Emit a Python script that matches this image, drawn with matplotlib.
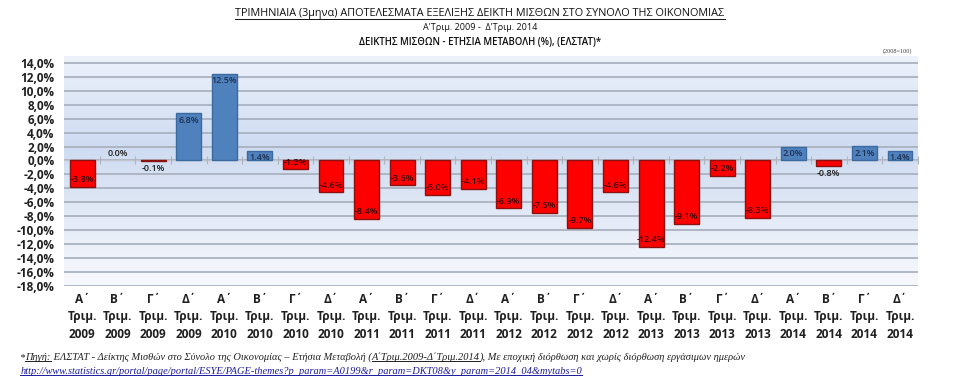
import numpy as np
import matplotlib
matplotlib.use("Agg")
from matplotlib import pyplot as plt
from matplotlib.lines import Line2D

plt.rcParams['font.family'] = ['Open Sans', 'DejaVu Sans']

quarters = ['Α΄', 'Β΄', 'Γ΄', 'Δ΄'] * 6
years = ['2009'] * 4 + ['2010'] * 4 + ['2011'] * 4 + ['2012'] * 4 + ['2013'] * 4 + ['2014'] * 4
values = [-3.8, 0.0, -0.1, 6.8,
          12.5, 1.4, -1.3, -4.6,
          -8.4, -3.6, -5.0, -4.1,
          -6.9, -7.5, -9.7, -4.6,
          -12.4, -9.1, -2.2, -8.3,
          2.0, -0.8, 2.1, 1.4]
yticks = np.arange(-18, 15, 2)

title = 'ΤΡΙΜΗΝΙΑΙΑ (3μηνα) ΑΠΟΤΕΛΕΣΜΑΤΑ ΕΞΕΛΙΞΗΣ ΔΕΙΚΤΗ ΜΙΣΘΩΝ ΣΤΟ ΣΥΝΟΛΟ ΤΗΣ ΟΙΚΟΝΟΜΙΑΣ'
subtitle = "Α'Τριμ. 2009 -  Δ'Τριμ. 2014"
subtitle2 = 'ΔΕΙΚΤΗΣ ΜΙΣΘΩΝ - ΕΤΗΣΙΑ ΜΕΤΑΒΟΛΗ (%), (ΕΛΣΤΑΤ)*'
base_note = '(2008=100)'
source = [('*', False), ('Πηγή:', True),
          (' ΕΛΣΤΑΤ - Δείκτης Μισθών στο Σύνολο της Οικονομίας – Ετήσια Μεταβολή (', False),
          ('Α΄Τριμ.2009-Δ΄Τριμ.2014', True),
          ('), Με εποχική διόρθωση και χωρίς διόρθωση εργάσιμων ημερών', False)]
link = 'http://www.statistics.gr/portal/page/portal/ESYE/PAGE-themes?p_param=A0199&r_param=DKT08&y_param=2014_04&mytabs=0'

fig = plt.figure(figsize=(9.6, 3.87), dpi=100)
ax = fig.add_axes([0.067, 0.262, 0.889, 0.593])

x = np.arange(len(values))
vals = np.array(values)

# background gradient: pale at top/bottom, bluer around zero
ylo, yhi = -18, 15
yy = np.linspace(yhi, ylo, 200)
top_c = np.array([0.93, 0.95, 0.985])
mid_c = np.array([0.81, 0.86, 0.945])
bot_c = np.array([0.97, 0.975, 0.99])
grad = np.zeros((200, 1, 3))
for i, v in enumerate(yy):
    if v >= 2:
        t = (v - 2) / (yhi - 2)
        grad[i, 0] = mid_c + (top_c - mid_c) * t
    else:
        t = (2 - v) / (2 - ylo)
        grad[i, 0] = mid_c + (bot_c - mid_c) * t
ax.imshow(grad, extent=(-0.5, len(values) - 0.5, ylo, yhi), aspect='auto', zorder=0)

for yv in yticks:
    ax.axhline(yv, color='#aab2c0', lw=1.3, zorder=1)
ax.axhline(0, color='#c0c4cc', lw=1.0, zorder=1)
ax.plot(x[:-1] + 0.5, np.zeros(len(x) - 1), ls='none', marker='|', ms=6, mew=0.8,
        color='#b0b4bc', zorder=1)
ax.plot([len(x) - 0.5], [0], ls='none', marker='|', ms=6, mew=0.8, color='#b0b4bc', zorder=1)

face = ['#4f81bd' if v > 0 else '#ff0000' for v in vals]
edge = ['#3b6aa0' if v > 0 else ('#8b1010' if v < 0 else 'none') for v in vals]
ax.bar(x, vals, width=0.7, color=face, edgecolor=edge, linewidth=1.0, zorder=2)

for xi, v in zip(x, vals):
    lab = f'{v:.1f}%'
    kw = dict(textcoords='offset points', ha='center', fontsize=6.5,
              fontweight='semibold', zorder=3)
    if v >= 1:
        ax.annotate(lab, (xi, v), xytext=(0, -2), va='top', color='#1f3050', **kw)
    elif v <= -1:
        ax.annotate(lab, (xi, v), xytext=(0, 2), va='bottom', color='#3a0000', **kw)
    elif v >= 0:
        ax.annotate(lab, (xi, v), xytext=(0, 2), va='bottom', color='#202020', **kw)
    else:
        ax.annotate(lab, (xi, v), xytext=(0, -2), va='top', color='#202020', **kw)

ax.set_xlim(-0.5, len(values) - 0.5)
ax.set_ylim(ylo, yhi)
ax.set_yticks(yticks)
ax.set_yticklabels([f'{t:.1f}%'.replace('.', ',') for t in yticks],
                   fontsize=8.5, fontweight='bold', color='#202020')
ax.set_xticks(x)
ax.set_xticklabels([f'{q}\nΤριμ.\n{y}' for q, y in zip(quarters, years)],
                   fontsize=8.5, fontweight='bold', color='#202020', linespacing=1.45)
ax.tick_params(axis='y', length=0, pad=7)
ax.tick_params(axis='x', length=0, pad=5)
for s in ax.spines.values():
    s.set_visible(False)

fig.text(0.5, 0.964, title, ha='center', va='center', fontsize=7.8,
         fontweight='medium', color='#101010')
fig.text(0.5, 0.928, subtitle, ha='center', va='center', fontsize=6.5, color='#101010')
fig.text(0.5, 0.891, subtitle2, ha='center', va='center', fontsize=6.9,
         fontweight='semibold', color='#101010')
fig.text(0.95, 0.868, base_note, ha='right', va='center', fontsize=4.5,
         family='Liberation Serif', color='#404040')

fig.canvas.draw()
renderer = fig.canvas.get_renderer()


def underline(t, color):
    bb = t.get_window_extent(renderer).transformed(fig.transFigure.inverted())
    fig.add_artist(Line2D([bb.x0, bb.x1], [bb.y0 + 0.002, bb.y0 + 0.002],
                          transform=fig.transFigure, color=color, lw=0.7))


underline(fig.texts[0], '#101010')

# footnote built piece by piece so parts can be underlined
xpos = 0.021
for piece, ul in source:
    t = fig.text(xpos, 0.077, piece, ha='left', va='center', fontsize=7.5,
                 family='Liberation Serif', style='italic', color='#202020')
    bb = t.get_window_extent(renderer).transformed(fig.transFigure.inverted())
    if ul:
        underline(t, '#202020')
    xpos = bb.x1
lt = fig.text(0.021, 0.041, link, ha='left', va='center', fontsize=7.5,
              family='Liberation Serif', style='italic', color='#1a1aa0')
underline(lt, '#1a1aa0')

fig.savefig('out.png', dpi=100)
